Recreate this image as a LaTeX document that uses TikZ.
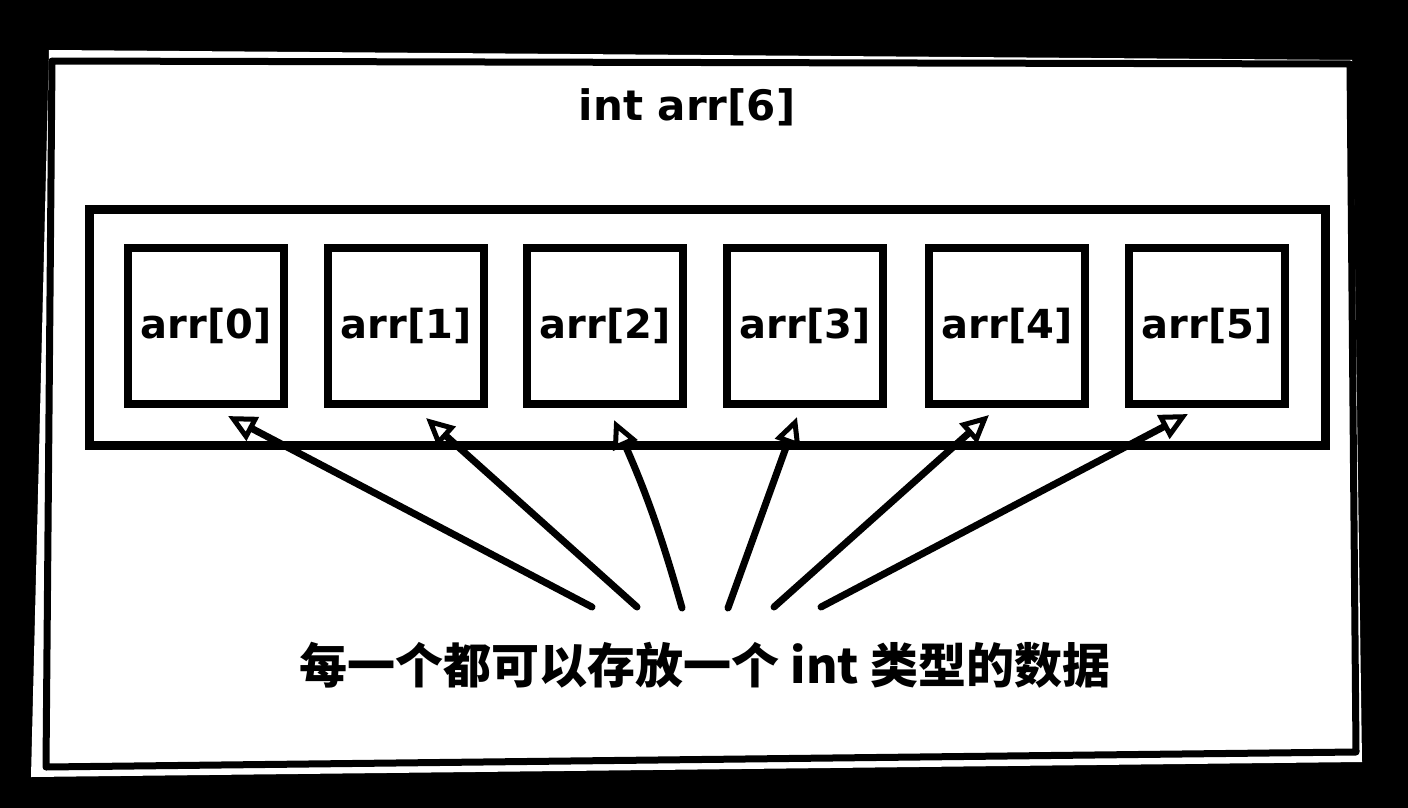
\documentclass[tikz,border=0pt]{standalone}
\usepackage{fontspec}
\setmainfont{DejaVu Sans}
\newfontfamily\cjk{Noto Sans CJK SC}
\usetikzlibrary{arrows.meta}
\begin{document}
\begin{tikzpicture}[x=1pt,y=-1pt,
  cell/.style={draw=black, fill=white, line width=8pt, minimum width=156pt, minimum height=156pt, inner sep=0pt, font=\fontsize{40}{46}\selectfont\bfseries},
  ptr/.style={draw=black, line width=7pt, line cap=round, -{Triangle[fill=white,length=28pt,width=26pt,line width=5pt]}},
  title/.style={font=\fontsize{42}{48}\selectfont\bfseries}]
\useasboundingbox (0,0) rectangle (1408,808);
\fill[black] (0,0) rectangle (1408,808);
% outer sheet
\fill[white] (49,50) -- (1352,60) -- (1362,762) -- (31,777) -- cycle;
\draw[black, line width=7pt, line join=round] (52,61) -- (1350,64) -- (1356,752) -- (46,767) -- cycle;
\node[title] (t) at (687,107) {int arr[6]};
% inner frame
\node[draw=black, line width=9pt, minimum width=1236pt, minimum height=236pt, inner sep=0pt] (frame) at (707,327) {};
% cells
\node[cell] (b0) at (206,326) {arr[0]};
\node[cell] (b1) at (406,326) {arr[1]};
\node[cell] (b2) at (605,326) {arr[2]};
\node[cell] (b3) at (805,326) {arr[3]};
\node[cell] (b4) at (1007,326) {arr[4]};
\node[cell] (b5) at (1207,326) {arr[5]};
% note
\node (note) at (705,665) {\cjk\fontsize{48}{54}\selectfont\bfseries 每一个都可以存放一个 int 类型的数据};
\coordinate (s0) at (592,607);
\coordinate (s1) at (637,607);
\coordinate (s2) at (682,608);
\coordinate (s3) at (728,608);
\coordinate (s4) at (774,607);
\coordinate (s5) at (821,607);
\draw[ptr] (s0) -- ([xshift=22pt,yshift=-8pt]b0.south);
\draw[ptr] (s1) -- ([xshift=20pt,yshift=-10pt]b1.south);
\draw[ptr] (s2) to[bend right=4] ([xshift=9pt,yshift=-12pt]b2.south);
\draw[ptr] (s3) -- ([xshift=-8pt,yshift=-9pt]b3.south);
\draw[ptr] (s4) -- ([xshift=-18pt,yshift=-7pt]b4.south);
\draw[ptr] (s5) -- ([xshift=-19pt,yshift=-6pt]b5.south);
\end{tikzpicture}
\end{document}
